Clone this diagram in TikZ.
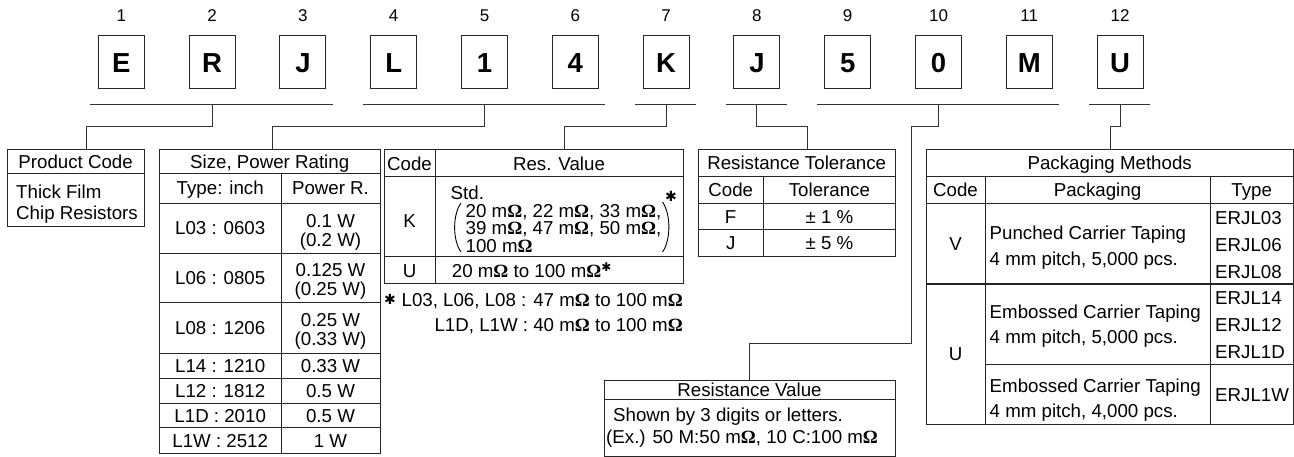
\documentclass[tikz,border=0pt]{standalone}
\usepackage{fontspec}
\setmainfont{Liberation Sans}
\newfontfamily\omfont{Liberation Serif}
\newfontfamily\symfont{DejaVu Sans}
\usetikzlibrary{calc}
\newcommand{\Om}{{\omfont\bfseries Ω}}
\newcommand{\hstar}{{\symfont ✱}}
\newcommand{\supstar}{\raisebox{6pt}{\fontsize{12}{12}\selectfont\hstar}}
\tikzset{
  txt/.style={font=\fontsize{18.7}{19}\selectfont, inner sep=0pt, text height=13.4pt, text depth=0pt},
  ltxt/.style={txt, anchor=west},
  rtxt/.style={txt, anchor=east},
  lbox/.style={draw=black!85, line width=1pt, minimum width=46pt, minimum height=53pt, inner sep=0pt,
    font=\fontsize{27.5}{27.5}\selectfont\bfseries, text height=19.7pt, text depth=0pt},
  num/.style={font=\fontsize{17}{17}\selectfont, inner sep=0pt, text height=12.2pt, text depth=0pt},
  tbl/.style={draw=black!85, line width=1pt},
  conn/.style={draw=black!80, line width=1pt},
}
\begin{document}
\begin{tikzpicture}[x=1pt,y=-1pt]
\useasboundingbox (0,0) rectangle (1294,457);

% code letters and position numbers
\foreach \l [count=\i] in {E,R,J,L,1,4,K,J,5,0,M,U} {
  \node[lbox] (b\i) at ({121.3+90.8*(\i-1)},62.5) {\l};
  \node[num] (n\i) at ({121.3+90.8*(\i-1)},15) {\i};
}

\coordinate (brk) at (0,104.7);
\coordinate (jog) at (0,126.7);

% brackets
\draw[conn] ($(b1.west |- brk)+(-7.5,0)$) -- ($(b3.east |- brk)+(6.5,0)$);
\draw[conn] ($(b4.west |- brk)+(-7.5,0)$) -- ($(b6.east |- brk)+(6.5,0)$);
\draw[conn] ($(b7.west |- brk)+(-7.5,0)$) -- ($(b7.east |- brk)+(6.5,0)$);
\draw[conn] ($(b8.west |- brk)+(-7.5,0)$) -- ($(b8.east |- brk)+(6.5,0)$);
\draw[conn] ($(b9.west |- brk)+(-7.5,0)$) -- ($(b11.east |- brk)+(6.5,0)$);
\draw[conn] ($(b12.west |- brk)+(-7.5,0)$) -- ($(b12.east |- brk)+(6.5,0)$);

% connector targets
\coordinate (pc) at (86,150);
\coordinate (sz) at (272.7,150);
\coordinate (rv) at (564,150);
\coordinate (tol) at (807.3,150);
\coordinate (j5) at (911,343.3);
\coordinate (res) at (749,380.7);
\coordinate (pk) at (1110,150);

\draw[conn] (b2 |- brk) -- (b2 |- jog) -| (pc);
\draw[conn] (b5 |- brk) -- (b5 |- jog) -| (sz);
\draw[conn] (b7 |- brk) -- (b7 |- jog) -| (rv);
\draw[conn] (b8 |- brk) -- (b8 |- jog) -| (tol);
\draw[conn] (b10 |- brk) -- (b10 |- jog) -| (j5) -| (res);
\draw[conn] (b12 |- brk) -- (b12 |- jog) -| (pk);

% ---------- Product Code
\draw[tbl] (7.3,150) rectangle (144,226.7);
\draw[tbl] (7.3,173.3) -- (144,173.3);
\node[txt] (pc1) at (75.6,162) {Product Code};
\node[ltxt] (pc2) at (16,191.7) {Thick Film};
\node[ltxt] (pc3) at (16,213.3) {Chip Resistors};

% ---------- Size, Power Rating
\draw[tbl] (159.3,150) rectangle (380,453.3);
\foreach \y in {173.3,203.3,253.3,302.7,353.3,378.3,403.3,427.7} \draw[tbl] (159.3,\y) -- (380,\y);
\draw[tbl] (281,173.3) -- (281,453.3);
\node[txt] (s0) at (269.7,162) {Size, Power Rating};
\node[txt] (s1) at (220.2,188.3) {Type: inch};
\node[txt] (s2) at (330.5,188.3) {Power R.};
\node[txt] (s3) at (220.2,228.3) {L03 : 0603};
\node[txt] (s4) at (330.5,220.5) {0.1 W};
\node[txt] (s5) at (330.5,239.5) {(0.2 W)};
\node[txt] (s6) at (220.2,278) {L06 : 0805};
\node[txt] (s7) at (330.5,270) {0.125 W};
\node[txt] (s8) at (330.5,289) {(0.25 W)};
\node[txt] (s9) at (220.2,328) {L08 : 1206};
\node[txt] (s10) at (330.5,320) {0.25 W};
\node[txt] (s11) at (330.5,339) {(0.33 W)};
\node[txt] (s12) at (220.2,365.8) {L14 : 1210};
\node[txt] (s13) at (330.5,365.8) {0.33 W};
\node[txt] (s14) at (220.2,390.8) {L12 : 1812};
\node[txt] (s15) at (330.5,390.8) {0.5 W};
\node[txt] (s16) at (220.2,415.5) {L1D : 2010};
\node[txt] (s17) at (330.5,415.5) {0.5 W};
\node[txt] (s18) at (220.2,440.5) {L1W : 2512};
\node[txt] (s19) at (330.5,440.5) {1 W};

% ---------- Code / Res. Value
\draw[tbl] (384,150) rectangle (683,283.3);
\draw[tbl] (384,177) -- (683,177);
\draw[tbl] (384,256.8) -- (683,256.8);
\draw[tbl] (435,150) -- (435,283.3);
\node[txt] (r0) at (409.5,163.5) {Code};
\node[txt] (r1) at (559,163.5) {Res. Value};
\node[txt] (r2) at (409.5,221) {K};
\node[ltxt] (r3) at (450.5,193) {Std.};
\node[ltxt] (r4) at (465.5,211) {20 m\Om, 22 m\Om, 33 m\Om,};
\node[ltxt] (r5) at (465.5,228.3) {39 m\Om, 47 m\Om, 50 m\Om,};
\node[ltxt] (r6) at (465.5,245.5) {100 m\Om};
\draw[line width=0.9pt] (461,203) .. controls (452.5,215) and (452.5,240) .. (461,252);
\draw[line width=0.9pt] (662.5,202) .. controls (671,214) and (671,240) .. (662.5,252);
\node[txt, font=\fontsize{14}{14}\selectfont, text height=10pt] (r7) at (671,197) {\hstar};
\node[txt] (r8) at (409.5,271) {U};
\node[ltxt] (r9) at (451.7,271) {20 m\Om\ to 100 m\Om\supstar};
\node[txt, font=\fontsize{14}{14}\selectfont, text height=10pt] (r10) at (390,300) {\hstar};
\node[rtxt] (r11) at (683,300) {L03, L06, L08 : 47 m\Om\ to 100 m\Om};
\node[rtxt] (r12) at (683,324.5) {L1D, L1W : 40 m\Om\ to 100 m\Om};

% ---------- Resistance Tolerance
\draw[tbl] (698,150) rectangle (895.5,256.7);
\foreach \y in {176.5,203.3,230} \draw[tbl] (698,\y) -- (895.5,\y);
\draw[tbl] (763.3,176.5) -- (763.3,256.7);
\node[txt] (t0) at (796.7,163.2) {Resistance Tolerance};
\node[txt] (t1) at (730.7,190) {Code};
\node[txt] (t2) at (829.4,190) {Tolerance};
\node[txt] (t3) at (730.7,216.7) {F};
\node[txt] (t4) at (829.4,216.7) {± 1 \%};
\node[txt] (t5) at (730.7,243.3) {J};
\node[txt] (t6) at (829.4,243.3) {± 5 \%};

% ---------- Packaging Methods
\draw[tbl] (926,150) rectangle (1293.3,424);
\draw[tbl] (926,176.5) -- (1293.3,176.5);
\draw[tbl] (926,204) -- (1293.3,204);
\draw[draw=black!85, line width=2pt] (926,284) -- (1293.3,284);
\draw[tbl] (985,364) -- (1293.3,364);
\draw[tbl] (985,176.5) -- (985,424);
\draw[tbl] (1210,176.5) -- (1210,424);
\node[txt] (p0) at (1109.7,163.2) {Packaging Methods};
\node[txt] (p1) at (955.5,190) {Code};
\node[txt] (p2) at (1097.5,190) {Packaging};
\node[txt] (p3) at (1251.7,190) {Type};
\node[txt] (p4) at (955.5,244) {V};
\node[ltxt] (p5) at (989.5,232.7) {Punched Carrier Taping};
\node[ltxt] (p6) at (989.5,258.5) {4 mm pitch, 5,000 pcs.};
\node[ltxt] (p7) at (1215,218.3) {ERJL03};
\node[ltxt] (p8) at (1215,245) {ERJL06};
\node[ltxt] (p9) at (1215,272) {ERJL08};
\node[txt] (p10) at (955.5,353.3) {U};
\node[ltxt] (p11) at (989.5,311.7) {Embossed Carrier Taping};
\node[ltxt] (p12) at (989.5,336.7) {4 mm pitch, 5,000 pcs.};
\node[ltxt] (p13) at (1215,298.3) {ERJL14};
\node[ltxt] (p14) at (1215,325) {ERJL12};
\node[ltxt] (p15) at (1215,351.7) {ERJL1D};
\node[ltxt] (p16) at (989.5,386) {Embossed Carrier Taping};
\node[ltxt] (p17) at (989.5,410.5) {4 mm pitch, 4,000 pcs.};
\node[ltxt] (p18) at (1215,394.5) {ERJL1W};

% ---------- Resistance Value
\draw[tbl] (604,380.7) rectangle (895,456);
\draw[tbl] (604,399) -- (895,399);
\node[txt] (v0) at (749.5,390) {Resistance Value};
\node[ltxt] (v1) at (613,415) {Shown by 3 digits or letters.};
\node[ltxt] (v2) at (606,437) {(Ex.) 50 M:50 m\Om, 10 C:100 m\Om};
\end{tikzpicture}
\end{document}
